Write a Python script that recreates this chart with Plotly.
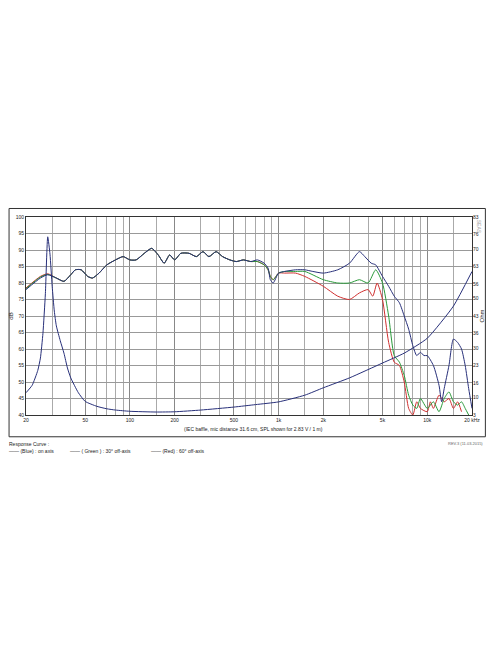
import plotly.graph_objects as go

freq_on = [20, 25, 28, 32, 36, 40, 43, 47, 52, 56, 62, 70, 80, 90, 100, 110, 125, 140, 155, 170, 185, 200, 220, 250, 280, 310, 340, 380, 420, 470, 520, 580, 650, 720, 800, 850, 880, 920, 1000, 1100, 1300, 1500, 1700, 2000, 2500, 3000, 3500, 3800, 4200, 4500, 5000, 5500, 6000, 6500, 7000, 7500, 8000, 8500, 9000, 9500, 10000, 11000, 12000, 12500, 13000, 14000, 15000, 16000, 17000, 18000, 19000, 20000]
spl_on = [78, 81.5, 82.5, 81.5, 80.5, 82.5, 84, 84, 82, 81.5, 83, 85.5, 87, 88, 87, 87, 89, 90.5, 88.5, 86, 88.5, 87, 89, 89, 88, 89.5, 88, 89.5, 88, 87, 86.5, 87, 86.5, 87, 86, 84.5, 81, 80, 83, 83.5, 84, 84, 83.5, 83, 84, 86, 89.5, 88, 86, 85.5, 82, 79, 76, 74, 70, 66, 61, 58, 59, 58, 58, 55, 49, 44, 48, 55, 63, 62, 60, 55, 48, 42]

freq_30 = [20, 25, 28, 32, 36, 40, 43, 47, 52, 56, 62, 70, 80, 90, 100, 110, 125, 140, 155, 170, 185, 200, 220, 250, 280, 310, 340, 380, 420, 470, 520, 580, 650, 720, 800, 850, 880, 920, 1000, 1100, 1300, 1500, 2000, 2500, 3000, 3500, 4000, 4500, 5000, 5500, 6000, 6500, 7000, 7500, 8000, 8500, 9000, 10000, 11000, 12000, 13000, 14000, 15000, 16000, 17000, 18000, 19000]
spl_30 = [78.3, 81.8, 82.6, 81.5, 80.5, 82.5, 84, 84, 82, 81.5, 83, 85.5, 87, 88, 87, 87, 89, 90.5, 88.5, 86, 88.5, 87, 89, 89, 88, 89.5, 88, 89.5, 88, 87, 86.5, 87, 86.5, 86.5, 85.5, 84, 82, 81, 83, 83.5, 83.5, 83.5, 81, 80, 80, 81, 80, 84, 80, 70, 58, 56, 52, 46, 43, 42, 45, 42, 44, 41, 45, 47, 44, 43, 44, 42, 40]

freq_60 = [20, 25, 28, 32, 36, 40, 43, 47, 52, 56, 62, 70, 80, 90, 100, 110, 125, 140, 155, 170, 185, 200, 220, 250, 280, 310, 340, 380, 420, 470, 520, 580, 650, 720, 800, 850, 880, 920, 1000, 1100, 1300, 1500, 2000, 2500, 3000, 3500, 4000, 4300, 4600, 5000, 5500, 6000, 6500, 7000, 7500, 8000, 8500, 9000, 10000, 10500, 11000, 12000, 13000, 14000, 15000, 16000, 17000]
spl_60 = [78.5, 82, 82.8, 81.5, 80.5, 82.5, 84, 84, 82, 81.5, 83, 85.5, 87, 88, 87, 87, 89, 90.5, 88.5, 86, 88.5, 87, 89, 89, 88, 89.5, 88, 89.5, 88, 87, 86.5, 87, 86.5, 86.5, 85.5, 84, 82, 81, 83, 83, 83, 82, 79, 76, 75, 77, 78, 76, 80, 75, 62, 56, 55, 50, 42, 40, 44, 42, 41, 44, 42, 46, 44, 45, 42, 44, 41]

freq_z = [20, 22, 24, 25, 26, 27, 28, 29, 30, 31, 32, 34, 36, 38, 40, 45, 50, 60, 70, 80, 100, 150, 200, 300, 500, 700, 1000, 1500, 2000, 3000, 5000, 7000, 10000, 15000, 20000]
ohm_z = [12, 15, 21, 26, 36, 52, 75, 68, 55, 45, 39, 33, 28, 22, 18, 12, 8.5, 6.5, 5.5, 5, 4.5, 4.2, 4.3, 5, 6.2, 7.2, 8.3, 11, 14, 18, 24, 28, 34, 47, 61]

x_labels = ["20", "50", "100", "200", "500", "1k", "2k", "5k", "10k", "20 kHz"]
x_vals = [20, 50, 100, 200, 500, 1000, 2000, 5000, 10000, 20000]
grid_x = [30, 40, 60, 70, 80, 90, 300, 400, 600, 700, 800, 900, 3000, 4000, 6000, 7000, 8000, 9000, 150, 1500, 15000]
ohm_ticks = [3, 10, 16, 23, 30, 36, 43, 50, 56, 63, 70, 76, 83]

fig = go.Figure()
fig.add_trace(go.Scatter(x=freq_60, y=spl_60, mode="lines", line=dict(color="#d03030", width=1, shape="spline", smoothing=0.6)))
fig.add_trace(go.Scatter(x=freq_30, y=spl_30, mode="lines", line=dict(color="#2a9a3a", width=1, shape="spline", smoothing=0.6)))
fig.add_trace(go.Scatter(x=freq_on, y=spl_on, mode="lines", line=dict(color="#28307a", width=1, shape="spline", smoothing=0.6)))
fig.add_trace(go.Scatter(x=freq_z, y=ohm_z, mode="lines", yaxis="y2", line=dict(color="#28307a", width=1, shape="spline", smoothing=0.5)))

# page has an 8px body margin, so the figure is 480x648
fig.update_layout(
    width=480, height=648, showlegend=False,
    paper_bgcolor="white", plot_bgcolor="white",
    margin=dict(l=18, r=16, t=209, b=241),
    font=dict(family="Liberation Sans, Arial", size=5, color="#222"),
    xaxis=dict(type="log", range=[1.30103, 4.30103], tickvals=x_vals, ticktext=x_labels, automargin=False,
               showgrid=True, gridcolor="#888", gridwidth=0.8,
               minor=dict(tickvals=grid_x, showgrid=True, gridcolor="#aaa", gridwidth=0.6, ticks=""),
               showline=True, linecolor="#333", mirror=True, ticks="", tickfont=dict(size=5)),
    yaxis=dict(range=[40, 100], dtick=5, showgrid=True, gridcolor="#999", gridwidth=0.6, automargin=False,
               showline=True, linecolor="#333", mirror=True, ticks="", zeroline=False,
               title=dict(text="dB", standoff=2, font=dict(size=6))),
    yaxis2=dict(range=[3, 83], tickvals=ohm_ticks, overlaying="y", side="right", showgrid=False, automargin=False,
                ticks="", zeroline=False, title=dict(text="Ohm", standoff=2, font=dict(size=6))),
)
fig.add_shape(type="rect", xref="paper", yref="paper", x0=-0.038, x1=1.03, y0=-0.11, y1=1.043,
              line=dict(color="#333", width=1))
fig.add_annotation(text="(IEC baffle, mic distance 31.6 cm, SPL shown for 2.83 V / 1 m)", xref="paper", yref="paper",
                   x=0.35, y=-0.045, xanchor="left", yanchor="top", showarrow=False, font=dict(size=5))
fig.add_annotation(text="SEAS", xref="paper", yref="paper", x=1.005, y=0.995, textangle=90,
                   xanchor="left", yanchor="top", showarrow=False, font=dict(size=5, color="#999"))
fig.add_annotation(text="Response Curve :", xref="paper", yref="paper", x=-0.043, y=-0.12,
                   xanchor="left", yanchor="top", showarrow=False, font=dict(size=5))
fig.add_annotation(text="—— (Blue) : on axis", xref="paper", yref="paper", x=-0.043, y=-0.155,
                   xanchor="left", yanchor="top", showarrow=False, font=dict(size=5))
fig.add_annotation(text="—— ( Green ) : 30° off-axis", xref="paper", yref="paper", x=0.095, y=-0.155,
                   xanchor="left", yanchor="top", showarrow=False, font=dict(size=5))
fig.add_annotation(text="—— (Red) : 60° off-axis", xref="paper", yref="paper", x=0.275, y=-0.155,
                   xanchor="left", yanchor="top", showarrow=False, font=dict(size=5))
fig.add_annotation(text="REV.3 (11.03.2015)", xref="paper", yref="paper", x=1.03, y=-0.12,
                   xanchor="right", yanchor="top", showarrow=False, font=dict(size=4, color="#666"))

fig.write_html("out.html")
